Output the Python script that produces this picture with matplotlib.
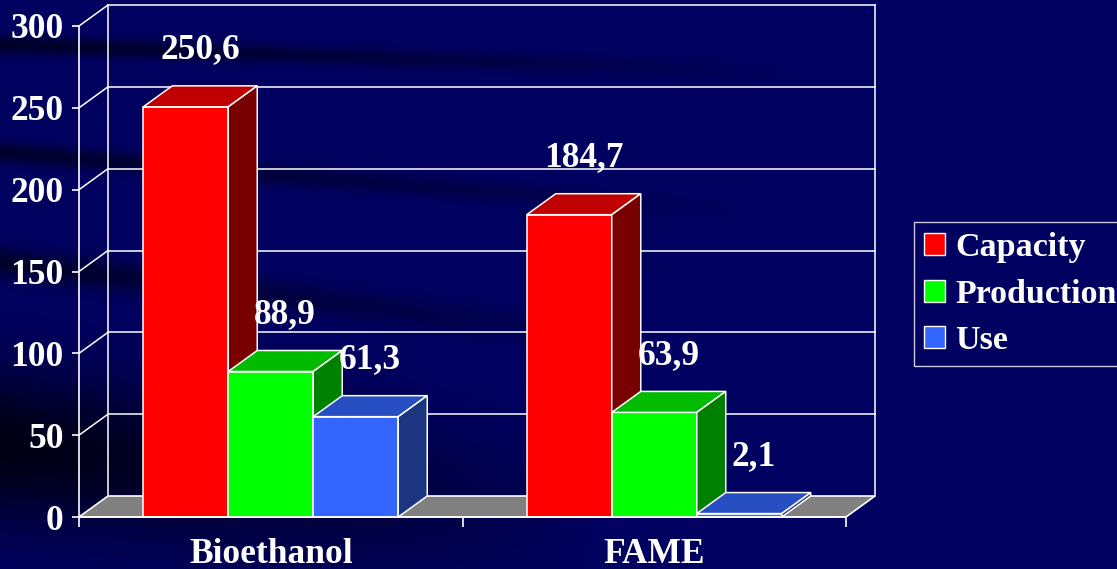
import numpy as np
import matplotlib.pyplot as plt
from matplotlib.patches import Polygon, Patch

# data
categories = ['Bioethanol', 'FAME']
series = ['Capacity', 'Production', 'Use']
capacity = [250.6, 184.7]
production = [88.9, 63.9]
use = [61.3, 2.1]
y_ticks = [0, 50, 100, 150, 200, 250, 300]

front_colors = ['#ff0000', '#00ff00', '#3366ff']
top_colors = ['#c00000', '#00bb00', '#274ec2']
side_colors = ['#780000', '#008000', '#1c3580']

bg = '#000060'
plt.rcParams['font.family'] = ['Liberation Serif', 'DejaVu Serif']
plt.rcParams['font.weight'] = 'bold'
FS = 25.5

fig = plt.figure(figsize=(11.17, 5.69), dpi=100, facecolor=bg)

# background with dark swooshes fading to the right
W, H = 1117, 569
X, Y = np.meshgrid(np.arange(W), np.arange(H))


def band(yc, hw, fade, strength):
    return strength * np.exp(-((Y - yc) / hw) ** 2) * np.clip(1 - X / fade, 0, 1) ** 0.8


dark = (band(44 + 0.035 * X, 9, 800, 0.6)
        + band(152 + 0.08 * X, 10, 750, 0.55)
        + band(262 + 0.12 * X, 15, 650, 0.55)
        + band(445 + 0.12 * X, 75, 600, 0.8))
dark = np.clip(dark, 0, 0.9)
img = np.zeros((H, W, 3))
img[..., 2] = (0x60 / 255) * (1 - dark)
bgax = fig.add_axes([0, 0, 1, 1], zorder=-10)
bgax.imshow(img, aspect='auto', extent=(0, W, H, 0))
bgax.axis('off')

# front plane of the 3d chart
ax = fig.add_axes([79 / 1117, 52 / 569, 767 / 1117, 491 / 569])
ax.set_facecolor('none')
ax.set_xlim(-0.5, 1.5)
ax.set_ylim(0, 300)

DX = 29 / 383.5        # depth offset in category units
DY = 21 / (491 / 300)  # depth offset in value units
x0, x1 = -0.5, 1.5

# floor
ax.add_patch(Polygon([(x0, 0), (x1, 0), (x1 + DX, DY), (x0 + DX, DY)],
                     closed=True, facecolor='#808080', edgecolor='white',
                     lw=1.2, clip_on=False, zorder=1))

# walls: grid lines on back and left
for t in y_ticks[1:]:
    ax.plot([x0 + DX, x1 + DX], [t + DY, t + DY], color='white', lw=1.1,
            clip_on=False, zorder=0.5)
    ax.plot([x0, x0 + DX], [t, t + DY], color='white', lw=1.1,
            clip_on=False, zorder=0.5)
ax.plot([x0 + DX, x0 + DX], [DY, 300 + DY], color='white', lw=1.1, clip_on=False, zorder=0.5)
ax.plot([x1 + DX, x1 + DX], [DY, 300 + DY], color='white', lw=1.1, clip_on=False, zorder=0.5)

# bars
width = 85 / 383.5
x = np.arange(len(categories))
values = [capacity, production, use]
z = 2
for gi in range(len(categories)):
    for si, vals in enumerate(values):
        v = vals[gi]
        left = x[gi] + (si - 1.5) * width
        ax.bar(left, v, width, align='edge', color=front_colors[si],
               edgecolor='white', lw=1.1, zorder=z, clip_on=False)
        ax.add_patch(Polygon([(left, v), (left + width, v),
                              (left + width + DX, v + DY), (left + DX, v + DY)],
                             facecolor=top_colors[si], edgecolor='white',
                             lw=1.1, zorder=z, clip_on=False))
        ax.add_patch(Polygon([(left + width, 0), (left + width, v),
                              (left + width + DX, v + DY), (left + width + DX, DY)],
                             facecolor=side_colors[si], edgecolor='white',
                             lw=1.1, zorder=z, clip_on=False))
        z += 1
        ax.annotate(f'{v:.1f}'.replace('.', ','),
                    (left + width / 2 + DX / 2, v + DY), xytext=(0, 26),
                    textcoords='offset points', ha='center', va='center',
                    color='white', fontsize=FS, fontweight='bold', zorder=20,
                    annotation_clip=False)

# axes styling
for s in ['top', 'right']:
    ax.spines[s].set_visible(False)
for s in ['left', 'bottom']:
    ax.spines[s].set_color('white')
    ax.spines[s].set_linewidth(1.2)
    ax.spines[s].set_zorder(30)
ax.set_yticks(y_ticks)
ax.set_yticklabels([str(t) for t in y_ticks])
ax.tick_params(axis='y', colors='white', length=5, width=1.2, pad=6, labelsize=FS)
ax.set_xticks([-0.5, 0.5, 1.5])
ax.set_xticklabels(['', '', ''])
ax.tick_params(axis='x', which='major', colors='white', length=7, width=1.2)
ax.set_xticks(x, minor=True)
ax.set_xticklabels(categories, minor=True)
ax.tick_params(axis='x', which='minor', length=0, pad=15, labelsize=FS, labelcolor='white')

# legend
handles = [Patch(facecolor=c, edgecolor='white', lw=1) for c in front_colors]
leg = fig.legend(handles, series, loc='upper left',
                 bbox_to_anchor=(914 / 1117, 1 - 222 / 569), borderaxespad=0,
                 fontsize=24.5, frameon=True, fancybox=False, handlelength=0.62,
                 handleheight=0.62, handletextpad=0.3, borderpad=0.3,
                 labelspacing=0.45)
leg.get_frame().set_facecolor('none')
leg.get_frame().set_edgecolor('white')
leg.get_frame().set_linewidth(1)
for t in leg.get_texts():
    t.set_color('white')
    t.set_fontweight('bold')

fig.savefig('out.png', dpi=100, facecolor=bg)
